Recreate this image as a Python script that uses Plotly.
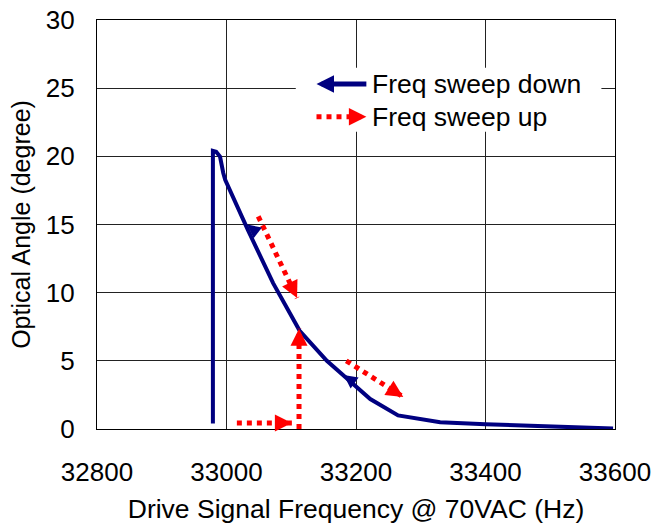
import math
import plotly.graph_objects as go

# Blue curve: frequency sweep down (Hz, degree)
down_freq = [32979, 32979, 32984, 32990, 32995, 32998, 33033, 33072, 33113, 33155,
             33186, 33222, 33265, 33330, 33400, 33500, 33560, 33597]
down_angle = [0.4, 20.4, 20.34, 19.98, 18.78, 18.27, 14.6, 10.7, 7.2, 5.0,
              3.7, 2.2, 1.0, 0.5, 0.35, 0.22, 0.15, 0.03]

# Blue direction arrows on the curve: (base freq, base angle, tip freq, tip angle)
down_arrows = [
    (33048, 14.4, 33032, 15.0),
    (33198, 3.37, 33181, 3.96),
]

# Red dotted arrows: frequency sweep up (start freq, start angle, tip freq, tip angle)
up_arrows = [
    (33016, 0.44, 33101, 0.44),
    (33112, 0.0, 33112, 7.35),
    (33049, 15.6, 33109, 9.6),
    (33185, 5.0, 33273, 2.35),
]

legend_labels = ["Freq sweep down", "Freq sweep up"]

x_ticks = [32800, 33000, 33200, 33400, 33600]
y_ticks = [0, 5, 10, 15, 20, 25, 30]

X_RANGE = [32800, 33600]
Y_RANGE = [0, 30]

NAVY = "#000080"
RED = "#ff0000"
FONT = "Liberation Sans, Arial, sans-serif"

W, H = 658, 524
M = dict(l=97, r=43, t=20, b=95)
PX_X = (W - M["l"] - M["r"]) / (X_RANGE[1] - X_RANGE[0])
PX_Y = (H - M["t"] - M["b"]) / (Y_RANGE[1] - Y_RANGE[0])

fig = go.Figure()

# legend background box (covers gridlines)
fig.add_shape(type="rect", x0=33107, x1=33579, y0=21.8, y1=26.5,
              fillcolor="white", line=dict(width=0), layer="between")

fig.add_trace(go.Scatter(x=down_freq, y=down_angle, mode="lines",
                         line=dict(color=NAVY, width=4), hoverinfo="skip"))


def head(x0, y0, x1, y1, color, scale):
    """arrowhead only, pointing from (x0,y0) toward tip (x1,y1)"""
    dx = (x1 - x0) * PX_X
    dy = -(y1 - y0) * PX_Y
    n = math.hypot(dx, dy)
    back = 4.0 * scale
    fig.add_annotation(x=x1, y=y1, xref="x", yref="y", text="", showarrow=True,
                       axref="pixel", ayref="pixel",
                       ax=-dx / n * back, ay=-dy / n * back,
                       arrowhead=2, arrowsize=scale, arrowwidth=1,
                       arrowcolor=color, standoff=0)


for bx, by, tx, ty in down_arrows:
    head(bx, by, tx, ty, NAVY, 2.7)

for sx, sy, tx, ty in up_arrows:
    fig.add_trace(go.Scatter(x=[sx, tx], y=[sy, ty], mode="lines",
                             line=dict(color=RED, width=5, dash="dot"),
                             hoverinfo="skip"))
    head(sx, sy, tx, ty, RED, 3.4)

# legend samples
leg_x0, leg_x1 = 33139, 33216
leg_y = [25.3, 22.9]
fig.add_trace(go.Scatter(x=[leg_x0 + 8, leg_x1], y=[leg_y[0], leg_y[0]], mode="lines",
                         line=dict(color=NAVY, width=5), hoverinfo="skip"))
head(leg_x1, leg_y[0], leg_x0, leg_y[0], NAVY, 3.5)
fig.add_trace(go.Scatter(x=[leg_x0, leg_x1 - 8], y=[leg_y[1], leg_y[1]], mode="lines",
                         line=dict(color=RED, width=5, dash="dot"), hoverinfo="skip"))
head(leg_x0, leg_y[1], leg_x1, leg_y[1], RED, 3.5)

for lab, ly in zip(legend_labels, leg_y):
    fig.add_annotation(x=33222, y=ly, text=lab, showarrow=False, xanchor="left",
                       yanchor="middle", font=dict(size=26.5, color="black", family=FONT))

axis_common = dict(showline=True, linecolor="black", linewidth=1.3, mirror=True,
                   showgrid=True, gridcolor="#222222", gridwidth=1.2, zeroline=False,
                   ticks="", automargin=False, ticklabeloverflow="allow",
                   tickfont=dict(size=26, color="black", family=FONT))

fig.update_xaxes(range=X_RANGE, tickvals=x_ticks,
                 ticktext=[str(v) for v in x_ticks], ticklabelstandoff=20,
                 title=dict(text="Drive Signal Frequency @ 70VAC (Hz)", standoff=14,
                            font=dict(size=26.5, color="black", family=FONT)),
                 **axis_common)
fig.update_yaxes(range=Y_RANGE, tickvals=y_ticks,
                 ticktext=[str(v) for v in y_ticks], ticklabelstandoff=16,
                 title=dict(text="Optical Angle (degree)", standoff=7,
                            font=dict(size=25, color="black", family=FONT)),
                 **axis_common)

fig.update_layout(width=W, height=H, showlegend=False, margin=M,
                  paper_bgcolor="white", plot_bgcolor="white",
                  font=dict(family=FONT, color="black"))

# remove the default page margin so the figure fills the window exactly
fig.write_html("out.html", config={"displayModeBar": False},
               post_script="document.body.style.margin='0';document.body.style.overflow='hidden';")
